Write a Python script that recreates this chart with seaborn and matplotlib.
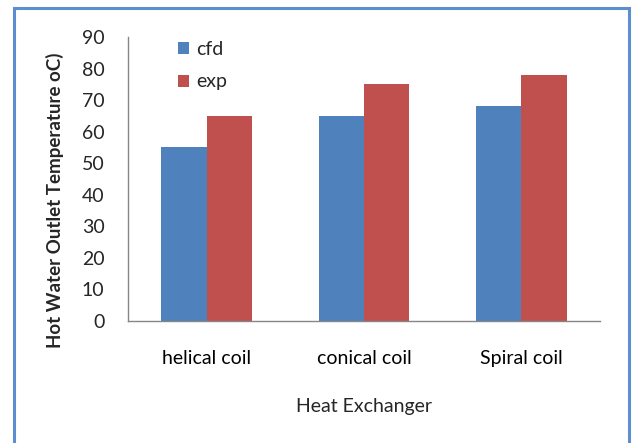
import matplotlib
matplotlib.use("Agg")
import matplotlib.pyplot as plt
from matplotlib.patches import Rectangle
from matplotlib.ticker import FixedLocator, NullFormatter
import seaborn as sns
import pandas as pd

categories = ["helical coil", "conical coil", "Spiral coil"]
cfd = [55, 65, 68]
exp = [65, 75, 78]
series_names = ["cfd", "exp"]
colors = ["#4F81BD", "#C0504D"]

df = pd.DataFrame({
    "exchanger": categories * 2,
    "temp": cfd + exp,
    "series": [series_names[0]] * 3 + [series_names[1]] * 3,
})

sns.set_style("white")
plt.rcParams["font.family"] = ["Lato", "DejaVu Sans"]

fig = plt.figure(figsize=(6.32, 4.43), dpi=100)
ax = fig.add_axes([128 / 632, 1 - 321 / 443, 472 / 632, 284 / 443])

sns.barplot(data=df, x="exchanger", y="temp", hue="series", palette=colors,
            width=0.575, gap=0, saturation=1, linewidth=0, ax=ax, legend=True)

ax.set_ylim(0, 90)
ax.set_xlim(-0.5, 2.5)
ax.set_yticks(range(0, 91, 10))

# tick marks at category boundaries, labels centred under groups
ax.xaxis.set_major_locator(FixedLocator([-0.5, 0.5, 1.5, 2.5]))
ax.xaxis.set_major_formatter(NullFormatter())
ax.xaxis.set_minor_locator(FixedLocator([0, 1, 2]))
ax.set_xticklabels(categories, minor=True)
ax.tick_params(axis="x", which="minor", length=0, pad=21, labelsize=14, colors="black")
ax.tick_params(axis="x", which="major", length=5, width=1, color="#868686", direction="out")
ax.tick_params(axis="y", length=5, width=1, color="#868686", direction="out",
               labelsize=14, pad=12)

for side in ["top", "right"]:
    ax.spines[side].set_visible(False)
for side in ["left", "bottom"]:
    ax.spines[side].set_color("#868686")
    ax.spines[side].set_linewidth(1)

ax.set_xlabel("Heat Exchanger", fontsize=14, labelpad=22)
ax.set_ylabel("Hot Water Outlet Temperature oC)", fontsize=13.5, fontweight="bold")
ax.yaxis.set_label_coords(-0.136, 0.426)

leg = ax.legend(loc="upper left", bbox_to_anchor=(0.106, 0.985), frameon=False,
                fontsize=14, borderpad=0, borderaxespad=0,
                handlelength=0.57, handleheight=0.57, handletextpad=0.35,
                labelspacing=0.78)

# outer chart border
fig.patches.append(Rectangle((14 / 632, -0.01), (629 - 14) / 632, 1 - 8 / 443 + 0.01,
                             transform=fig.transFigure, fill=False,
                             edgecolor="#5B8FD0", linewidth=2.2))

fig.savefig("out.png", dpi=100, facecolor="white")
